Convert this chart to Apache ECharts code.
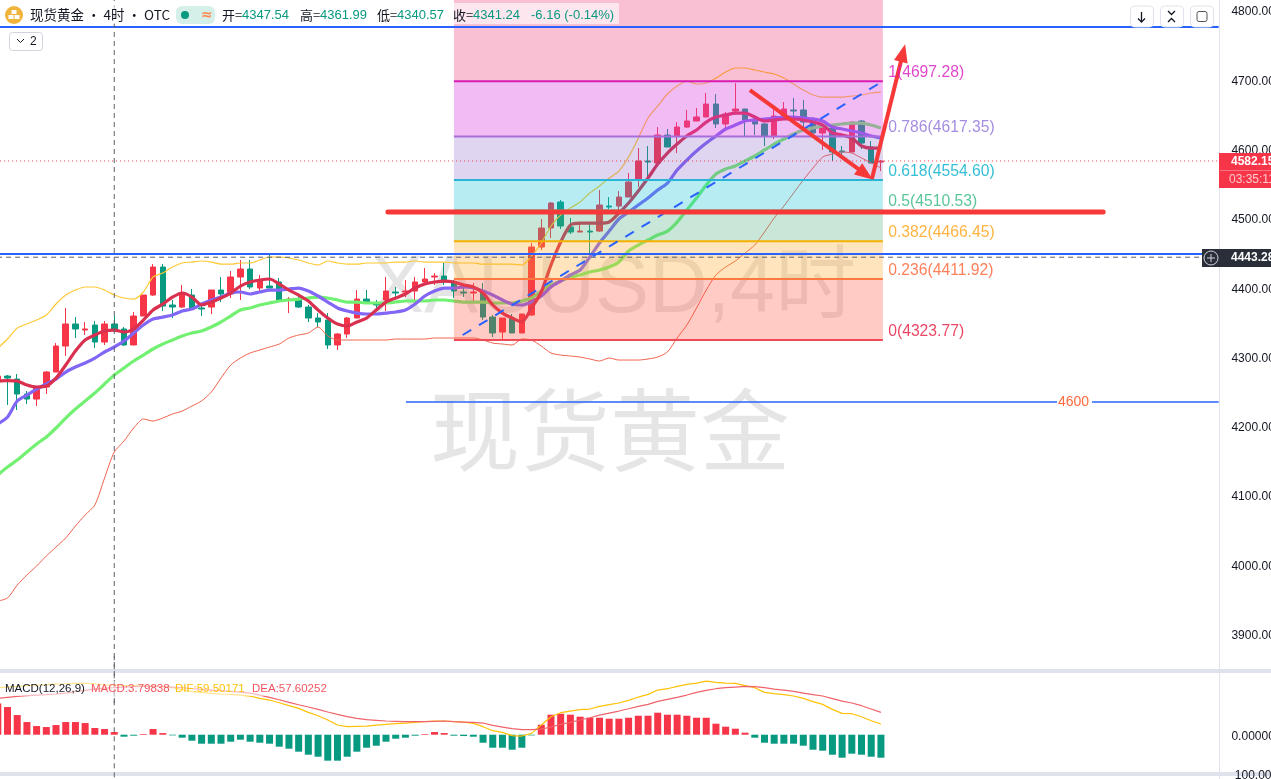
<!DOCTYPE html>
<html><head><meta charset="utf-8">
<style>html,body{margin:0;padding:0;background:#fff;overflow:hidden}#c{width:1271px;height:779px}</style>
<script src="https://cdn.jsdelivr.net/npm/echarts@6/dist/echarts.min.js"></script>
</head><body><div id="c"></div>
<script>
const opens=[4263.2,4271.8,4267.5,4245.9,4238.6,4256,4277.6,4315.1,4346.9,4338.2,4345.4,4320.9,4346.9,4339.7,4316.6,4358.4,4388.7,4429.1,4374.3,4371.4,4388.7,4370,4371.4,4395.9,4390.2,4414.7,4426.2,4398.8,4401.7,4407.5,4381.5,4381.5,4371.4,4355.5,4352.6,4316.6,4332.4,4355.5,4382.9,4377.2,4381.5,4393.1,4393.1,4394.5,4407.5,4414.7,4416.1,4407.5,4393.1,4391.6,4393.1,4356.9,4335.3,4355.5,4333.9,4359.9,4458,4485.4,4522.9,4486.8,4479.6,4481,4481,4517.1,4517.1,4530.1,4554.7,4582.1,4579.2,4619.6,4618.2,4631.1,4639.8,4645.6,4664.3,4635.5,4654.2,4657.1,4642.7,4635.5,4618.2,4647,4655.7,4655.7,4638.3,4622.5,4629.7,4596.5,4595.1,4639.8,4602.3,4580.6];
const closes=[4271.8,4268.9,4245.9,4238.6,4256,4277.6,4315.1,4346.9,4339.7,4339.7,4320.9,4346.9,4339.7,4316.6,4358.4,4388.7,4429.1,4372.8,4371.4,4391.6,4370,4368.5,4395.9,4390.2,4414.7,4426.2,4400.3,4408.9,4398.8,4381.5,4382.9,4371.4,4355.5,4349.8,4316.6,4332.4,4355.5,4382.9,4377.2,4374.3,4394.5,4391.6,4394.5,4407.5,4411.8,4416.1,4407.5,4394.5,4391.6,4393.1,4356.9,4333.9,4355.5,4333.9,4361.3,4458,4485.4,4521.5,4488.3,4479.6,4481,4479.6,4518.6,4515.7,4530.1,4551.8,4582.1,4580.6,4619.6,4602.3,4631.1,4639.8,4645.6,4664.3,4635.5,4649.9,4657.1,4641.2,4635.5,4618.2,4647,4657.1,4654.2,4638.3,4622.5,4629.7,4595.1,4595.1,4638.3,4608,4579.2,4582.15];
const lows=[4258.8,4230,4222.8,4231.4,4228.5,4245.9,4277.6,4300.7,4326.7,4331,4312.2,4316.6,4335.3,4315.1,4316.6,4358.4,4387.3,4365.6,4355.5,4370,4367.1,4358.4,4361.3,4378.6,4384.4,4381.5,4397.4,4394.5,4398.8,4380.1,4362.7,4370,4349.8,4342.5,4310.8,4309.4,4326.7,4355.5,4377.2,4370,4365.6,4385.8,4385.8,4375.7,4403.2,4403.2,4403.2,4384.4,4385.8,4377.2,4352.6,4328.1,4323.8,4333.9,4333.9,4358.4,4453.7,4471,4483.9,4476.7,4479.6,4446.4,4479.6,4512.8,4511.4,4530.1,4544.6,4554.7,4579.2,4602.3,4593.6,4629.7,4639.8,4645.6,4629.7,4628.3,4651.3,4618.2,4619.6,4603.7,4613.8,4644.1,4638.3,4629.7,4622.5,4598,4582.1,4586.4,4595.1,4599.4,4579.2,4567.6];
const highs=[4277.6,4273.3,4274.7,4250.2,4256,4279,4319.4,4370,4357,4349.8,4351.2,4351.2,4358.4,4342.5,4364.2,4388.7,4433.4,4433.4,4381.5,4403.2,4397.4,4372.8,4395.9,4414.7,4423.4,4439.2,4439.2,4417.6,4449.3,4413.3,4385.8,4388.7,4374.3,4362.7,4362.7,4333.9,4357,4395.9,4395.9,4381.5,4414.7,4400.3,4410.4,4414.7,4427.7,4420.5,4434.9,4410.4,4398.8,4406,4406,4359.9,4355.5,4361.3,4361.3,4463.8,4498.4,4522.9,4525.8,4499.8,4492.6,4492.6,4540.2,4530.1,4538.8,4564.8,4600.8,4603.7,4631.1,4628.3,4638.3,4655.7,4658.6,4680.2,4678.8,4652.8,4694.6,4657.1,4648.5,4636.9,4660,4667.2,4673,4670.1,4645.6,4636.9,4631.1,4603.7,4638.3,4641.2,4610.9,4583.5];
const maFast=[4264.6,4265.3,4264.6,4258.8,4256,4257.4,4268.9,4287.7,4307.9,4323.8,4331,4336.8,4338.2,4335.3,4339.7,4352.6,4367.1,4375.7,4385.8,4391.6,4385.8,4374.3,4378.6,4384.4,4391.6,4401.7,4407.5,4410.4,4411.8,4404.6,4395.9,4388.7,4380.1,4367.1,4355.5,4346.9,4344,4349.8,4355.5,4367.1,4378.6,4384.4,4390.2,4398.8,4404.6,4407.5,4408.9,4407.5,4403.2,4400.3,4391.6,4374.3,4362.7,4355.5,4349.8,4370,4393.1,4432,4465.2,4489.7,4492.6,4492.6,4492.6,4494.1,4507,4521.5,4538.8,4557.5,4577.7,4593.6,4606.6,4618.2,4626.8,4638.3,4645.6,4648.5,4651.3,4651.3,4645.6,4639.8,4641.2,4642.7,4642.7,4641.2,4638.3,4634,4622.5,4619.6,4615.3,4603.7,4600.8,4600.8];
const maMid=[4202.6,4212.7,4235.8,4244.4,4253,4260.3,4267.5,4277.6,4284.8,4290.6,4297.8,4306.5,4313.7,4322.3,4333.9,4345.4,4354,4356.9,4359.9,4365.6,4368.5,4375.7,4381.5,4385.8,4391.6,4393.1,4390.2,4393.1,4395.9,4395.9,4397.4,4398.8,4394.5,4387.3,4378.6,4370,4365.6,4362.7,4361.3,4361.3,4362.7,4364.2,4367.1,4375.7,4387.3,4394.5,4398.8,4398.8,4400.3,4398.8,4394.5,4388.7,4381.5,4375.7,4374.3,4378.6,4387.3,4400.3,4408.9,4417.6,4424.8,4443.6,4463.8,4481,4498.4,4508.5,4518.6,4528.7,4540.2,4550.3,4569.1,4583.5,4596.5,4608,4618.2,4628.3,4634,4639.8,4641.2,4642.7,4644.1,4645.6,4645.6,4644.1,4642.7,4639.8,4631.1,4628.3,4625.4,4622.5,4618.2,4615.3];
const maSlow=[4129,4140.5,4150.6,4162.2,4173.7,4183.8,4196.8,4211.2,4224.2,4235.8,4247.3,4260.3,4273.3,4283.4,4293.5,4302.1,4310.8,4318,4323.8,4329.6,4333.9,4336.8,4342.5,4349.8,4358.4,4367.1,4370,4374.3,4377.2,4380.1,4381.5,4382.9,4384.4,4385.8,4384.4,4381.5,4378.6,4378.6,4377.2,4377.2,4377.2,4378.6,4380.1,4380.1,4380.1,4381.5,4381.5,4380.1,4378.6,4378.6,4378.6,4377.2,4377.2,4377.2,4380.1,4384.4,4394.5,4403.2,4408.9,4414.7,4417.6,4421.9,4424.8,4429.1,4436.3,4452.2,4460.9,4468.1,4475.3,4481,4494,4511.4,4528.7,4547.4,4563.3,4570.5,4574.9,4582.1,4589.3,4598,4606.6,4613.8,4621,4626.8,4629.7,4632.6,4634,4635.5,4636.9,4636.9,4634,4629.7];
const bollUpper=[4312.2,4325.2,4341.1,4346.9,4352.6,4359.9,4375.7,4388.7,4395.9,4400.3,4400.3,4395.9,4388.7,4384.4,4382.9,4393.1,4414.7,4420.5,4429.1,4434.9,4436.3,4437.8,4436.3,4433.4,4433.4,4434.9,4434.9,4439.2,4443.6,4443.6,4442.1,4439.2,4434.9,4432,4437.8,4434.9,4433.4,4433.4,4434.9,4434.9,4434.9,4436.3,4436.3,4437.8,4436.3,4436.3,4436.3,4434.9,4434.9,4434.9,4433.4,4433.4,4433.4,4433.4,4432,4445,4463.8,4488.3,4504.1,4514.3,4522.9,4535.9,4546,4557.5,4567.6,4587.8,4615.3,4644.1,4661.4,4678.8,4690.3,4697.5,4693.2,4694.6,4701.8,4710.5,4716.3,4716.3,4713.4,4710.5,4707.6,4701.8,4693.2,4684.5,4677.3,4674.4,4674.4,4674.4,4675.9,4677.3,4680.2,4681.6];
const bollLower=[3947.2,3951.5,3970.2,3984.7,3997.7,4012.1,4025.1,4038.1,4055.4,4071.3,4085.7,4124.6,4162.2,4178,4196.8,4209.8,4206.9,4211.2,4217,4221.3,4228.5,4235.8,4248.7,4268.9,4287.7,4297.8,4305,4309.4,4313.7,4318,4326.7,4331,4333.9,4342.5,4329.6,4323.8,4323.8,4323.8,4323.8,4323.8,4323.8,4325.2,4325.2,4325.2,4325.2,4326.7,4326.7,4326.7,4326.7,4326.7,4323.8,4319.4,4318,4316.6,4325.2,4323.8,4315.1,4305,4302.1,4300.7,4299.2,4296.4,4293.5,4297.8,4294.9,4294.9,4294.9,4296.4,4299.2,4306.5,4326.7,4345.4,4370,4395.9,4417.6,4429.1,4437.8,4449.3,4460.9,4479.6,4499.8,4517.1,4535.9,4554.7,4572,4587.8,4592.2,4595.1,4593.6,4586.4,4579.2,4572];
const macdBars=[79.7,70.4,50,32.2,22,19.5,24.6,32.2,32.2,29.7,17,14.4,6.8,-5.1,-2.5,1.7,14.4,4.2,-1.7,-7.6,-15.3,-22.9,-22.9,-22.9,-17.8,-12.7,-17.8,-20.4,-22.9,-30.5,-35.6,-43.2,-50.9,-56,-66.1,-66.1,-56,-43.2,-33.1,-28,-17.8,-10.2,-7.6,-2.5,1.7,6.8,4.2,-2.5,-3.4,-5.1,-20.4,-33.1,-33.1,-38.2,-33.1,-1.7,25.4,50.9,53.4,50.9,45.8,43.2,43.2,40.7,40.7,43.2,48.3,48.3,56,50.9,50.9,48.3,43.2,43.2,28,20.4,15.3,5.1,-7.6,-20.4,-22.9,-22.9,-22.9,-28,-38.2,-40.7,-50.9,-58.5,-48.3,-50.9,-56,-58.5];
const difLine=[119.6,121.3,123,124.7,126.4,127.2,128.9,129.7,130.6,130.6,129.7,126.4,126.4,125.5,124.7,123.8,123.8,122.1,119.6,114.5,109.4,107.7,105.2,103.5,102.6,100.9,98.4,92.4,88.2,81.4,73.8,67,56.8,48.3,37.3,24.6,20.4,21.2,22,24.6,26.3,28,29.7,31.4,33.1,34.8,34.8,33.1,32.2,28.8,20.4,10.2,5.9,-2.5,-3.4,3.4,24.6,45.8,56,60.2,63.6,65.3,72.1,76.3,80.6,87.3,95.8,102.6,113.6,117,123,128,131.4,136.5,133.1,131.4,130.6,124.7,119.6,107.7,104.3,101.8,98.4,92.4,84,77.2,64.4,54.3,53.4,45.8,35.6,27.1];
const deaLine=[92.4,95,97.5,99.2,100.9,101.8,103.5,106,109.4,112.8,116.2,118.7,119.6,121.3,122.1,123,123,122.1,121.3,119.6,117,115.3,113.6,111.9,110.2,108.5,106,100.9,95,89,82.3,76.3,70.4,64.4,57.7,51.7,45.8,41.6,38.2,36.5,34.8,33.9,33.1,33.1,33.1,33.9,34.8,33.1,32.2,31.4,29.7,23.7,19.5,15.3,12.7,12.7,14.4,19.5,26.3,31.4,37.3,43.2,50,55.1,60.2,66.1,72.1,77.2,84.8,89.9,95,100.9,107.7,112.8,117,119.6,121.3,123,122.1,119.6,116.2,113.6,110.2,106,101.8,98.4,91.6,85.6,80.6,73.8,65.3,56.8];
const fibRatios=['1','0.786','0.618','0.5','0.382','0.236','0'];
const fibPrices=[4697.28,4617.35,4554.60,4510.53,4466.45,4411.92,4323.77];
const fibLineColors=['#d81bb4','#a96cdc','#29b5d8','#4cc38a','#f5b000','#ff7a3c','#ef4a55'];
const fibTextColors=['#d916bd','#8f6fdc','#00b0cc','#2fb87e','#ffa010','#ff5f30','#e5173f'];
const fibZoneColors=['rgba(233,30,99,.28)','rgba(214,60,222,.35)','rgba(126,87,194,.25)','rgba(0,188,212,.28)','rgba(76,175,130,.3)','rgba(255,167,38,.3)','rgba(255,82,60,.3)'];
const fibTop=4815;
const priceAxisTop=4900, priceAxisBottom=3800;
const lastPrice=4582.15, crossPrice=4443.28;
const blueLevels=[4775.4,4447.9];
const lowBlueLevel=4234.3;
const supportLevel=4508.5;

const BAR_COUNT=127;
const cats=Array.from({length:BAR_COUNT},(_,i)=>String(i));
const RED='#f63548',GREEN='#089981';
const LAST=125.8;
const chart=echarts.init(document.getElementById('c'),null,{renderer:'canvas'});
function seg(pts,color,width,type,z,extra){return Object.assign({type:'line',xAxisIndex:1,yAxisIndex:0,data:pts,symbol:'none',silent:true,z,animation:false,
  lineStyle:{color,width,type:type||'solid',opacity:1}},extra||{});}
function ma(data,color,width,z){return {type:'line',xAxisIndex:0,yAxisIndex:0,data,symbol:'none',silent:true,z,animation:false,smooth:0.25,lineStyle:{color,width}};}
function arrow(from,to){return {type:'line',xAxisIndex:1,yAxisIndex:0,data:[],symbol:'none',silent:true,z:9,animation:false,
  markLine:{z:9,silent:true,animation:false,symbol:['none','triangle'],symbolSize:[14,18],label:{show:false},lineStyle:{color:'#f73838',width:4,type:'solid'},
    data:[[{coord:from},{coord:to}]]}};}
const zoneData=fibPrices.map((p,i)=>[47,91.2,i===0?fibTop:fibPrices[i-1],p,i]);
const series=[
 {type:'candlestick',xAxisIndex:0,yAxisIndex:0,silent:true,animation:false,z:2,barWidth:6,
  data:opens.map((o,i)=>[o,closes[i],lows[i],highs[i]]),
  itemStyle:{color:RED,color0:GREEN,borderColor:RED,borderColor0:GREEN,borderWidth:1}},
 ma(bollUpper,'#ffc933',1.2,3),
 ma(bollLower,'#f0624d',1,3),
 ma(maSlow,'#72f072',3.2,3),
 ma(maMid,'#8266f5',3.2,3),
 ma(maFast,'#d9304f',3.2,3),
 seg([[-1,blueLevels[0]],[LAST,blueLevels[0]]],'#2962ff',2,null,6),
 seg([[-1,blueLevels[1]],[LAST,blueLevels[1]]],'#2962ff',2,null,6),
 seg([[-1,crossPrice],[LAST,crossPrice]],'#5d606b',1,[5,4],6),
 seg([[-1,lastPrice],[LAST,lastPrice]],'#f23645',1,[1,3],6),
 seg([[42.06,lowBlueLevel],[LAST,lowBlueLevel]],'#2962ff',1.5,null,6),
 seg([[12,priceAxisBottom],[12,priceAxisTop]],'#5d606b',1,[5,4],7),
 {type:'line',xAxisIndex:3,yAxisIndex:1,data:[[12,-200],[12,200]],symbol:'none',silent:true,z:7,animation:false,lineStyle:{color:'#5d606b',width:1,type:[5,4]}},
 {type:'custom',xAxisIndex:1,yAxisIndex:0,silent:true,z:5,animation:false,clip:true,data:zoneData,
  encode:{x:[0,1],y:[2,3]},
  renderItem(params,api){
    const a=api.coord([api.value(0),api.value(2)]),b=api.coord([api.value(1),api.value(3)]);
    return {type:'rect',shape:{x:a[0],y:a[1],width:b[0]-a[0],height:b[1]-a[1]},style:{fill:fibZoneColors[api.value(4)]}};
  }},
 ...fibPrices.map((p,i)=>seg([[47,p],[91.2,p]],fibLineColors[i],2,null,6)),
 {type:'scatter',xAxisIndex:1,yAxisIndex:0,silent:true,z:10,animation:false,symbolSize:1,itemStyle:{color:'transparent'},
  data:fibPrices.map((p,i)=>({value:[91.7,p],label:{show:true,position:'right',distance:0,offset:[0,-8.5],
    formatter:fibRatios[i]+'('+p.toFixed(2)+')',color:fibTextColors[i],fontSize:15.7,fontFamily:'Liberation Sans'}}))},
 seg([[47.9,4331],[91.4,4699]],'#2962ff',2,[10,9],8),
 seg([[40.2,supportLevel],[113.9,supportLevel]],'#f73838',5,null,9,{lineStyle:{color:'#f73838',width:5,cap:'round'}}),
 arrow([77.5,4684.5],[89.4,4563]),
 arrow([90.07,4556.1],[93.27,4738]),
 {type:'bar',xAxisIndex:2,yAxisIndex:1,silent:true,animation:false,z:2,barWidth:7,data:macdBars,
  itemStyle:{color:p=>p.value>=0?RED:GREEN}},
 {type:'line',xAxisIndex:2,yAxisIndex:1,data:difLine,symbol:'none',silent:true,z:3,animation:false,lineStyle:{color:'#ffc107',width:1.2}},
 {type:'line',xAxisIndex:2,yAxisIndex:1,data:deaLine,symbol:'none',silent:true,z:3,animation:false,lineStyle:{color:'#f0636a',width:1.2}},
];
const F='"Liberation Sans","Noto Sans CJK SC",sans-serif',CJK='"Noto Sans CJK SC","Liberation Sans",sans-serif';
function T(x,y,text,fill,font,extra){return Object.assign({type:'text',x,y,z:50,silent:true,style:{text,fill,font,textVerticalAlign:'middle'}},extra||{});}
function R(x,y,w,h,fill,extra){return Object.assign({type:'rect',z:50,silent:true,shape:{x,y,width:w,height:h,r:(extra&&extra.r)||0},style:{fill,stroke:(extra&&extra.stroke)||null,lineWidth:1}},extra&&extra.z?{z:extra.z}:{});}
function P(points,stroke,w){return {type:'polyline',z:52,silent:true,shape:{points},style:{stroke,fill:null,lineWidth:w||1.3}};}
const graphic=[
 T(370,290,'XAUUSD,4时','rgba(0,0,0,.1)','81px '+F,{z:1}),
 T(430,430,'现货黄金','rgba(0,0,0,.1)','90px '+CJK,{z:1}),
 R(0,669,1271,4,'#e0e3eb',{z:1}),
 R(0,772,1271,4,'#e0e3eb',{z:1}),
 {type:'line',z:1,silent:true,shape:{x1:1219.5,y1:0,x2:1219.5,y2:779},style:{stroke:'#e0e3eb',lineWidth:1}},
 R(0,3,619,21,'rgba(255,255,255,.6)'),
 {type:'circle',z:51,silent:true,shape:{cx:14,cy:15,r:9},style:{fill:'#f0b43c'}},
 R(11.5,10,5,4,'#fff',{z:52}),R(8.5,15,5,4,'#fff',{z:52}),R(14.5,15,5,4,'#fff',{z:52}),
 T(30,15,'现货黄金 • 4时 • OTC','#131722','13.5px '+CJK),
 R(176,6,39,18,'#d5efe9',{r:6,z:50}),
 {type:'circle',z:51,silent:true,shape:{cx:185,cy:15,r:4},style:{fill:GREEN}},
 T(201,15,'≈','#ff8a50','bold 14px "DejaVu Sans"',{z:51}),
 T(222,15,'开=','#131722','13px '+CJK),T(242,15,'4347.54',GREEN,'13px '+F),
 T(300,15,'高=','#131722','13px '+CJK),T(320,15,'4361.99',GREEN,'13px '+F),
 T(377,15,'低=','#131722','13px '+CJK),T(397,15,'4340.57',GREEN,'13px '+F),
 T(453,15,'收=','#131722','13px '+CJK),T(473,15,'4341.24',GREEN,'13px '+F),
 T(531,15,'-6.16 (-0.14%)',GREEN,'13px '+F),
 R(9.5,32.5,33,18,'#fff',{r:3,stroke:'#d1d4dc'}),
 P([[17,39],[20.5,42.5],[24,39]],'#131722',1),
 T(30,42,'2','#131722','12px '+F),
 R(1130.5,6,23,21,'#fff',{r:4,stroke:'#e0e3eb'}),
 R(1160.5,6,23,21,'#fff',{r:4,stroke:'#e0e3eb'}),
 R(1190.5,6,23,21,'#fff',{r:4,stroke:'#e0e3eb'}),
 P([[1141.5,12],[1141.5,22]],'#131722'),P([[1138,18.5],[1141.5,22],[1145,18.5]],'#131722'),
 P([[1168,11],[1171.5,14.5],[1175,11]],'#131722'),P([[1168,22],[1171.5,18.5],[1175,22]],'#131722'),
 R(1197,11.5,10,10,'#fff',{r:2,stroke:'#555',z:52}),
 R(1219,153,52,35,'#f63548'),
 {type:'line',z:51,silent:true,shape:{x1:1220,y1:170.5,x2:1271,y2:170.5},style:{stroke:'rgba(255,255,255,.3)',lineWidth:1}},
 T(1231,162,'4582.15','#fff','bold 12px '+F,{z:52}),
 T(1229,180,'03:35:11','#ffc9cd','12px '+F,{z:52}),
 R(1202,249,69,18,'#2a2e39'),
 {type:'circle',z:52,silent:true,shape:{cx:1211,cy:258,r:7},style:{fill:'none',stroke:'#d1d4dc',lineWidth:1}},
 P([[1207,258],[1215,258]],'#d1d4dc',1),P([[1211,254],[1211,262]],'#d1d4dc',1),
 T(1231,258,'4443.28','#fff','bold 12px '+F,{z:52}),
 R(1057,394,35,16,'#fff'),
 T(1058,402,'4600','#ff6a3d','14px '+F,{z:52}),
 R(0,681,330,15,'rgba(255,255,255,.55)'),
 T(5,689,'MACD(12,26,9)','#131722','11.5px '+F,{z:52}),
 T(91,689,'MACD:3.79838','#f2555f','11.5px '+F,{z:52}),
 T(175,689,'DIF:59.50171','#ffc107','11.5px '+F,{z:52}),
 T(252,689,'DEA:57.60252','#f2555f','11.5px '+F,{z:52}),
];
const hiddenAxis=(gridIndex)=>({type:'value',gridIndex,min:-0.5,max:BAR_COUNT-0.5,show:false,splitLine:{show:false}});
const catAxis=(gridIndex)=>({type:'category',gridIndex,data:cats,show:false,boundaryGap:true});
chart.setOption({
 animation:false,backgroundColor:'#fff',graphic,
 grid:[{left:-7.05,top:-59.3,width:1232.5,height:762.3,containLabel:false,outerBoundsMode:'none'},{left:-7.05,top:656.1,width:1232.5,height:157.2,containLabel:false,outerBoundsMode:'none'}],
 xAxis:[catAxis(0),hiddenAxis(0),catAxis(1),hiddenAxis(1)],
 yAxis:[
  {type:'value',gridIndex:0,z:4,position:'right',min:priceAxisBottom,max:priceAxisTop,interval:100,scale:true,
   axisLine:{show:false},axisTick:{show:false},splitLine:{show:false},
   axisLabel:{show:true,showMinLabel:false,showMaxLabel:false,margin:6,verticalAlign:'top',lineHeight:4,color:'#131722',fontSize:12,fontFamily:'Liberation Sans',formatter:v=>v.toFixed(2)}},
  {type:'value',gridIndex:1,z:4,position:'right',min:-200,max:200,interval:100,
   axisLine:{show:false},axisTick:{show:false},splitLine:{show:false},
   axisLabel:{show:true,margin:6,verticalAlign:'top',lineHeight:4,color:'#131722',fontSize:12,fontFamily:'Liberation Sans',formatter:v=>v===0?'0.00000':(v===-100?' 100.00':'')}}
 ],
 series
});
</script></body></html>
